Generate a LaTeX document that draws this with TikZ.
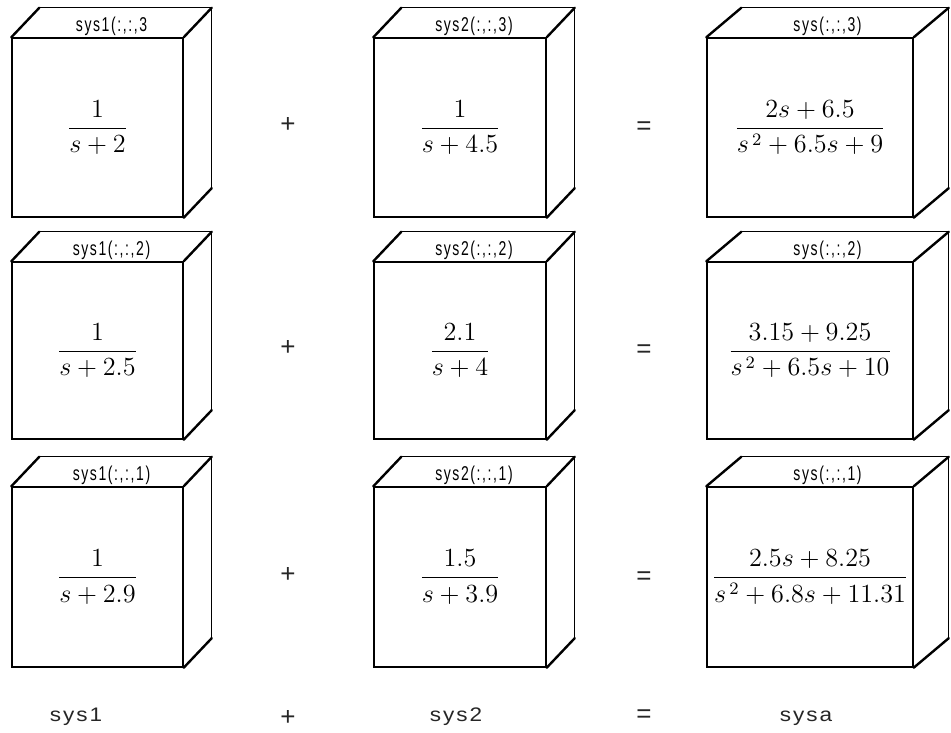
\documentclass[tikz,border=0pt]{standalone}
\usepackage{fontspec}
\usetikzlibrary{calc}
\newfontfamily\toplabelfont[FakeStretch=0.7,LetterSpace=8]{Liberation Sans}
\newfontfamily\botfont[FakeStretch=1.15,LetterSpace=10]{Liberation Sans}
\newfontfamily\opfont{Liberation Sans}
\tikzset{
  face/.style={draw, line width=0.7pt, inner sep=0pt, font=\fontsize{12}{14}\selectfont},
  depthedge/.style={line width=1.2pt, line cap=round},
  backedge/.style={line width=0.6pt},
  toplabel/.style={inner sep=0pt, font=\toplabelfont\fontsize{10}{11}\selectfont},
  botlabel/.style={inner sep=0pt, font=\botfont\fontsize{9.8}{11}\selectfont, text=black!85},
  opsign/.style={inner sep=0pt, font=\opfont\fontsize{13}{15}\selectfont, text=black!85}
}
% #1 name, #2 xl, #3 xr, #4 yt, #5 yb, #6 dx, #7 label, #8 content
\newcommand\drawcube[8]{%
  \pgfmathsetmacro\cubew{(#3-#2)*0.5}%
  \pgfmathsetmacro\cubeh{(#5-#4)*0.5}%
  \node[face, minimum width=\cubew pt, minimum height=\cubeh pt] (#1) at ({(#2+#3)/2},{(#4+#5)/2}) {\scalebox{1.09}{#8}};
  \coordinate (#1-btl) at ($(#1.north west)+(#6,-29.5)$);
  \coordinate (#1-btr) at ($(#1.north east)+(#6,-29.5)$);
  \coordinate (#1-bbr) at ($(#1.south east)+(#6,-29.5)$);
  \draw[backedge] (#1-btl) -- (#1-btr) -- (#1-bbr);
  \draw[depthedge] (#1.north west) -- (#1-btl);
  \draw[depthedge] (#1.north east) -- (#1-btr);
  \draw[depthedge] (#1.south east) -- (#1-bbr);
  \node[toplabel, anchor=base] (#1-lab) at ($(#1.north)+(#6/2,-6)$) {#7};
}
\begin{document}
\begin{tikzpicture}[x=0.5pt,y=-0.5pt]
\useasboundingbox (0,0) rectangle (951,732);
% row 1
\drawcube{a3}{12}{183}{38}{217}{28}{sys1(:,:,3}{$\displaystyle\frac{1}{s+2}$}
\drawcube{b3}{374}{546}{38}{217}{28}{sys2(:,:,3)}{$\displaystyle\frac{1}{s+4.5}$}
\drawcube{c3}{707}{913}{38}{217}{35}{sys(:,:,3)}{$\displaystyle\frac{2s+6.5}{s^{\,2}+6.5s+9}$}
% row 2
\drawcube{a2}{12}{183}{262}{439}{28}{sys1(:,:,2)}{$\displaystyle\frac{1}{s+2.5}$}
\drawcube{b2}{374}{546}{262}{439}{28}{sys2(:,:,2)}{$\displaystyle\frac{2.1}{s+4}$}
\drawcube{c2}{707}{913}{262}{439}{35}{sys(:,:,2)}{$\displaystyle\frac{3.15+9.25}{s^{\,2}+6.5s+10}$}
% row 3
\drawcube{a1}{12}{183}{487}{667}{28}{sys1(:,:,1)}{$\displaystyle\frac{1}{s+2.9}$}
\drawcube{b1}{374}{546}{487}{667}{28}{sys2(:,:,1)}{$\displaystyle\frac{1.5}{s+3.9}$}
\drawcube{c1}{707}{913}{487}{667}{35}{sys(:,:,1)}{$\displaystyle\frac{2.5s+8.25}{s^{\,2}+6.8s+11.31}$}
% operators
\node[opsign] (p3) at (288,125) {+};
\node[opsign] (e3) at (644,128) {=};
\node[opsign] (p2) at (288,348) {+};
\node[opsign] (e2) at (644,351) {=};
\node[opsign] (p1) at (288,575) {+};
\node[opsign] (e1) at (644,578) {=};
% bottom labels
\node[botlabel, anchor=base] (s1) at (76,721) {sys1};
\node[opsign] (pb) at (288,718) {+};
\node[botlabel, anchor=base] (s2) at (456,721) {sys2};
\node[opsign] (eb) at (644,716) {=};
\node[botlabel, anchor=base] (sa) at (806,721) {sysa};
\end{tikzpicture}
\end{document}
